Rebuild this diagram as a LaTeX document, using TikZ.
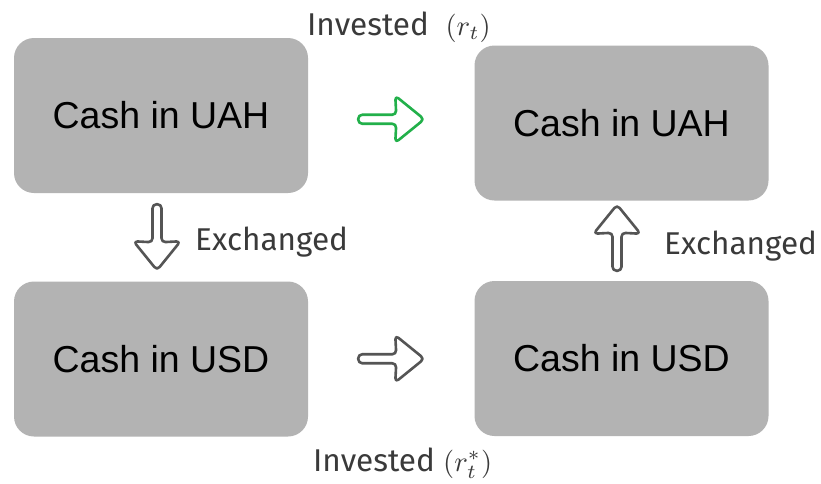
\documentclass[tikz,border=0pt]{standalone}
\usepackage{graphicx}
\usepackage{fontspec}
\setmainfont{Liberation Sans}
\newfontfamily\labelfont{Fira Sans}
\usetikzlibrary{calc}
\definecolor{boxgray}{HTML}{B3B3B3}
\definecolor{labelgray}{HTML}{3A3A3A}
\definecolor{arrowgray}{HTML}{555555}
\definecolor{arrowgreen}{HTML}{22B04A}
% rate symbols set at 10pt and scaled up to the label size
\newcommand{\ratesym}[1]{{\fontsize{10}{12}\selectfont\scalebox{2.85}{$#1$}}}
\tikzset{
  cashbox/.style={fill=boxgray, rounded corners=20pt, minimum width=294pt,
    minimum height=155pt, inner sep=0pt, font=\fontsize{37.5}{42}\selectfont},
  flowlabel/.style={text=labelgray, inner sep=0pt,
    font=\labelfont\fontsize{31.5}{36}\selectfont},
  blockarrow/.pic={
    \draw[line width=2.6pt, rounded corners=4pt, line join=round, pic actions]
      (-33,4.5) -- (5,4.5) -- (4,23.5) -- (33,0) -- (4,-23.5) -- (5,-4.5)
      -- (-33,-4.5) -- cycle;
  }
}
\begin{document}
\begin{tikzpicture}[x=1pt, y=-1pt]
  \useasboundingbox (0,0) rectangle (821,483);
  \fill[white] (0,0) rectangle (821,483);

  % the four cash positions
  \node[cashbox] (uahA) at (161,115.5) {Cash in UAH};
  \node[cashbox] (uahB) at (621.5,123) {Cash in UAH};
  \node[cashbox] (usdA) at (161,359) {Cash in USD};
  \node[cashbox] (usdB) at (621.5,358.5) {Cash in USD};

  % arrow anchors between the boxes
  \coordinate (invUAH) at ($(uahA.east)!0.5!(uahB.west)$);
  \coordinate (invUSD) at ($(usdA.east)!0.5!(usdB.west)$);
  \coordinate (exDown) at ($(uahA.south)!0.5!(usdA.north)+(-4,0)$);
  \coordinate (exUp) at ($(usdB.north)!0.5!(uahB.south)+(-4.5,-3)$);

  \pic[draw=arrowgreen] at (invUAH) {blockarrow};
  \pic[draw=arrowgray] at (invUSD) {blockarrow};
  \pic[draw=arrowgray, rotate=-90] at (exDown) {blockarrow};
  \pic[draw=arrowgray, rotate=90] at (exUp) {blockarrow};

  % labels
  \node[flowlabel, anchor=base west] (lblTop) at (307,35) {Invested\ \ \ratesym{(r_t)}};
  \node[flowlabel, anchor=base west] (lblBottom) at (313,471) {Invested\ \ratesym{(r_t^{*})}};
  \node[flowlabel, anchor=west] (lblLeft) at (195,242) {Exchanged};
  \node[flowlabel, anchor=west] (lblRight) at (664,246) {Exchanged};
\end{tikzpicture}
\end{document}
